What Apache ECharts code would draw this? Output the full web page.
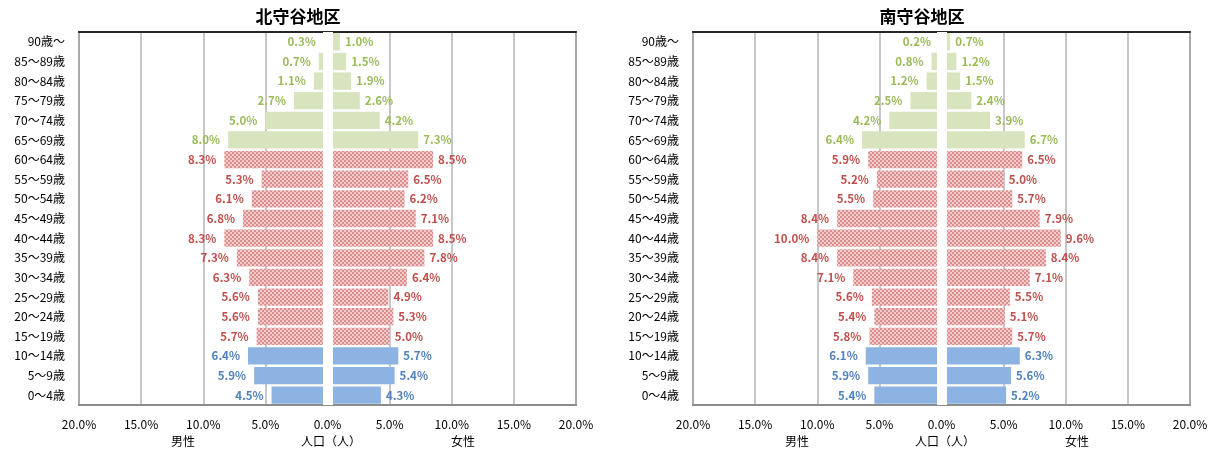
<!DOCTYPE html>
<html>
<head>
<meta charset="utf-8">
<script src="https://cdn.jsdelivr.net/npm/echarts@6/dist/echarts.min.js"></script>
<style>
  html, body { margin:0; padding:0; background:#fff; }
  #main { width:1220px; height:452px; }
</style>
</head>
<body>
<div id="main"></div>
<script>
/* age classes, bottom to top */
const AGES = ['0〜4歳', '5〜9歳', '10〜14歳', '15〜19歳', '20〜24歳', '25〜29歳', '30〜34歳', '35〜39歳',
  '40〜44歳', '45〜49歳', '50〜54歳', '55〜59歳', '60〜64歳', '65〜69歳', '70〜74歳', '75〜79歳',
  '80〜84歳', '85〜89歳', '90歳〜']

/* share of population (%), same order as AGES */
const NORTH_MALE   = [4.5, 5.9, 6.4, 5.7, 5.6, 5.6, 6.3, 7.3, 8.3, 6.8, 6.1, 5.3, 8.3, 8.0, 5.0, 2.7, 1.1, 0.7, 0.3]
const NORTH_FEMALE = [4.3, 5.4, 5.7, 5.0, 5.3, 4.9, 6.4, 7.8, 8.5, 7.1, 6.2, 6.5, 8.5, 7.3, 4.2, 2.6, 1.9, 1.5, 1.0]
const SOUTH_MALE   = [5.4, 5.9, 6.1, 5.8, 5.4, 5.6, 7.1, 8.4, 10.0, 8.4, 5.5, 5.2, 5.9, 6.4, 4.2, 2.5, 1.2, 0.8, 0.2]
const SOUTH_FEMALE = [5.2, 5.6, 6.3, 5.7, 5.1, 5.5, 7.1, 8.4, 9.6, 7.9, 5.7, 5.0, 6.5, 6.7, 3.9, 2.4, 1.5, 1.2, 0.7]

const TITLES = ['北守谷地区', '南守谷地区']
const AXIS_NAMES = ['男性', '人口（人）', '女性']

const FONT = '"Noto Sans CJK JP", "Noto Sans", sans-serif'

/* checkered fill for the working-age band */
function checker () {
  const c = document.createElement('canvas')
  c.width = 4; c.height = 4
  const g = c.getContext('2d')
  g.fillStyle = '#F3CBCA'; g.fillRect(0, 0, 4, 4)
  g.fillStyle = '#DA8F8E'; g.fillRect(0, 0, 2, 2); g.fillRect(2, 2, 2, 2)
  return { image: c, repeat: 'repeat' }
}
const PATTERN = checker()

/* 0-14 / 15-64 / 65+ */
function groupOf (i) { return i < 3 ? 0 : (i < 13 ? 1 : 2) }
const FILLS  = ['#8DB3E2', PATTERN, '#D7E4BD']
const LABELS = ['#4F81BD', '#C0504D', '#9BBB59']

const chart = echarts.init(document.getElementById('main'))

const grids = [
  { left: 79, width: 497, top: 32, bottom: 47 },
  { left: 693, width: 497, top: 32, bottom: 47 }
].map(g => Object.assign(g, { show: true, borderColor: '#8C8C8C', borderWidth: 2, backgroundColor: '#fff' }))

const xAxes = []
const yAxes = []
grids.forEach((g, gi) => {
  xAxes.push({
    type: 'value', gridIndex: gi, min: -20, max: 20, interval: 5,
    axisLine: { show: true, lineStyle: { color: '#8C8C8C', width: 2 } },
    axisTick: { show: false },
    splitLine: { show: true, lineStyle: { color: '#B4B4B4', width: 1.5 } },
    axisLabel: {
      color: '#000', fontSize: 12, fontFamily: FONT, margin: 13,
      formatter: v => Math.abs(v).toFixed(1) + '%'
    }
  })
  /* top frame edge is darker */
  xAxes.push({
    type: 'value', gridIndex: gi, min: -20, max: 20, position: 'top',
    axisLine: { show: true, onZero: false, lineStyle: { color: '#262626', width: 2 } },
    axisTick: { show: false }, axisLabel: { show: false }, splitLine: { show: false }
  })
  yAxes.push({
    type: 'category', gridIndex: gi, data: AGES,
    axisLine: { show: false }, axisTick: { show: false },
    axisLabel: { color: '#000', fontSize: 12, fontFamily: FONT, margin: 14 }
  })
})

function side (values, gi, male) {
  return {
    type: 'bar',
    xAxisIndex: gi * 2, yAxisIndex: gi,
    stack: 'pyr' + gi,
    barCategoryGap: '12%',
    data: values.map((v, i) => ({
      value: male ? -v : v,
      itemStyle: { color: FILLS[groupOf(i)] },
      label: { color: LABELS[groupOf(i)] }
    })),
    label: {
      show: true,
      position: male ? 'left' : 'right',
      distance: male ? 8 : 5,
      fontSize: 11.5, fontWeight: 'bold', fontFamily: FONT,
      formatter: p => Math.abs(p.value).toFixed(1) + '%'
    },
    /* white band down the zero line */
    markLine: male ? undefined : {
      silent: true, symbol: ['none', 'none'], animation: false,
      label: { show: false },
      lineStyle: { color: '#fff', width: 10, type: 'solid' },
      emphasis: { disabled: true },
      data: [{ xAxis: 0 }]
    },
    animation: false
  }
}

const series = [
  side(NORTH_MALE, 0, true), side(NORTH_FEMALE, 0, false),
  side(SOUTH_MALE, 1, true), side(SOUTH_FEMALE, 1, false)
]

const titleCenters = [293, 917]
const nameOffsets = [104, 252, 384]
const graphics = []
grids.forEach(g => {
  AXIS_NAMES.forEach((t, k) => graphics.push({
    type: 'text', x: g.left + nameOffsets[k], y: 441,
    style: { text: t, fontSize: 12, fontFamily: FONT, fill: '#000', align: 'center', verticalAlign: 'middle' }
  }))
})

chart.setOption({
  animation: false,
  title: TITLES.map((t, i) => ({
    text: t, left: titleCenters[i], top: 3, textAlign: 'center',
    textStyle: { fontSize: 17, fontWeight: 'bold', fontFamily: FONT, color: '#000' }
  })),
  grid: grids,
  xAxis: xAxes,
  yAxis: yAxes,
  series: series,
  graphic: graphics
})
</script>
</body>
</html>
